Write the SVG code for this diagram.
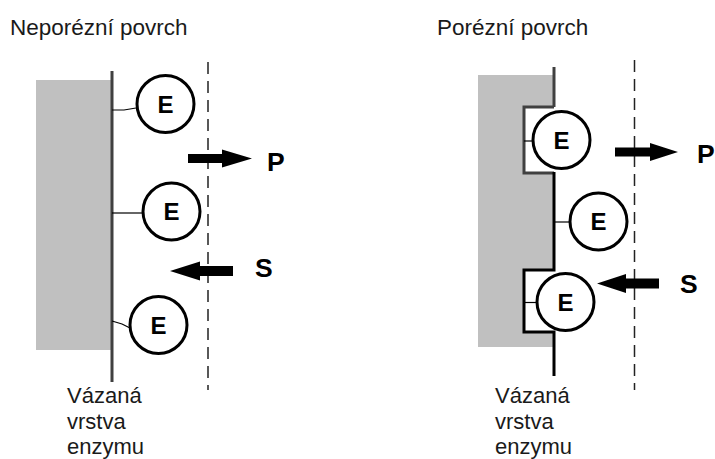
<svg xmlns="http://www.w3.org/2000/svg" width="715" height="459" viewBox="0 0 715 459">
<style>
.title{font-family:"Liberation Sans",Arial,sans-serif;font-size:22.5px;fill:#1a1a1a}
.lbl{font-family:"Liberation Sans",Arial,sans-serif;font-size:22px;fill:#1a1a1a}
.e{font-family:"Liberation Sans",Arial,sans-serif;font-size:24px;font-weight:bold;fill:#000;text-anchor:middle}
.ps{font-family:"Liberation Sans",Arial,sans-serif;font-size:26.5px;font-weight:bold;fill:#000}
.enz{fill:#fff;stroke:#000;stroke-width:3}
.thin{fill:none;stroke:#000;stroke-width:1.2}
.dash{fill:none;stroke:#222;stroke-width:1.5;stroke-dasharray:12 7}
.sup{fill:#c0c0c0;stroke:none}
.pore{fill:#fff;stroke:none}
.wall{fill:none;stroke:#404040;stroke-width:3}
.wallb{fill:none;stroke:#000;stroke-width:3}
.arr{fill:#000}
</style>
<rect width="715" height="459" fill="#fff"/>

<text class="title" x="10" y="35">Neporézní povrch</text>
<text class="title" x="437" y="35">Porézní povrch</text>

<g id="support-left"><rect class="sup" x="36" y="80" width="75" height="270"/></g>
<g id="support-right">
  <rect class="sup" x="478" y="75" width="75" height="272"/>
  <rect class="pore" x="524" y="107" width="30" height="66"/>
  <rect class="pore" x="524" y="270" width="30" height="62"/>
</g>

<g id="connectors">
  <line class="wall" x1="112" y1="71" x2="112" y2="382"/>
  <line class="dash" x1="208" y1="62" x2="208" y2="390"/>
  <polyline class="thin" points="112,110 124,110 136,108"/>
  <line class="thin" x1="112" y1="213" x2="143" y2="213"/>
  <polyline class="thin" points="112,321 122,324 130,328"/>
  <path class="arr" d="M188,154 H222 V149.5 L252,158.5 L222,167.5 V163 H188 Z"/>
  <path class="arr" d="M233,266 H200 V261.5 L170,271 L200,280.5 V276 H233 Z"/>

  <line class="wall" x1="554" y1="67" x2="554" y2="107"/>
  <polyline class="wall" points="554,107 524,107 524,173 554,173"/>
  <polyline class="wallb" points="554,172 554,270 524,270 524,332 554,332 554,376"/>
  <line class="dash" x1="634.5" y1="60" x2="634.5" y2="390"/>
  <line class="thin" x1="524" y1="141" x2="533" y2="141"/>
  <line class="thin" x1="555" y1="222" x2="570" y2="222"/>
  <line class="thin" x1="524" y1="302.5" x2="537" y2="302.5"/>
  <path class="arr" d="M615,147.5 H650 V143 L678,152 L650,161 V156.5 H615 Z"/>
  <path class="arr" d="M659,278.5 H626 V274 L597,283.5 L626,293 V288.5 H659 Z"/>
</g>

<g id="enzyme-left-1"><circle class="enz" cx="165.5" cy="104" r="28.5"/><text class="e" x="165.5" y="112.5">E</text></g>
<g id="enzyme-left-2"><circle class="enz" cx="171.5" cy="211.5" r="28.5"/><text class="e" x="171.5" y="220">E</text></g>
<g id="enzyme-left-3"><circle class="enz" cx="158.5" cy="325" r="28.5"/><text class="e" x="158.5" y="333.5">E</text></g>
<g id="enzyme-right-1"><circle class="enz" cx="561.5" cy="140" r="28.5"/><text class="e" x="561.5" y="148.5">E</text></g>
<g id="enzyme-right-2"><circle class="enz" cx="598.5" cy="221.5" r="28.5"/><text class="e" x="598.5" y="230">E</text></g>
<g id="enzyme-right-3"><circle class="enz" cx="565.5" cy="302" r="28.5"/><text class="e" x="565.5" y="310.5">E</text></g>

<text class="ps" x="267" y="171">P</text>
<text class="ps" x="255" y="276.5">S</text>
<text class="ps" x="697" y="163">P</text>
<text class="ps" x="680" y="293">S</text>

<text class="lbl" x="67" y="403">Vázaná</text>
<text class="lbl" x="67" y="429">vrstva</text>
<text class="lbl" x="67" y="453.5">enzymu</text>
<text class="lbl" x="495" y="403">Vázaná</text>
<text class="lbl" x="495" y="429">vrstva</text>
<text class="lbl" x="495" y="453.5">enzymu</text>
</svg>
